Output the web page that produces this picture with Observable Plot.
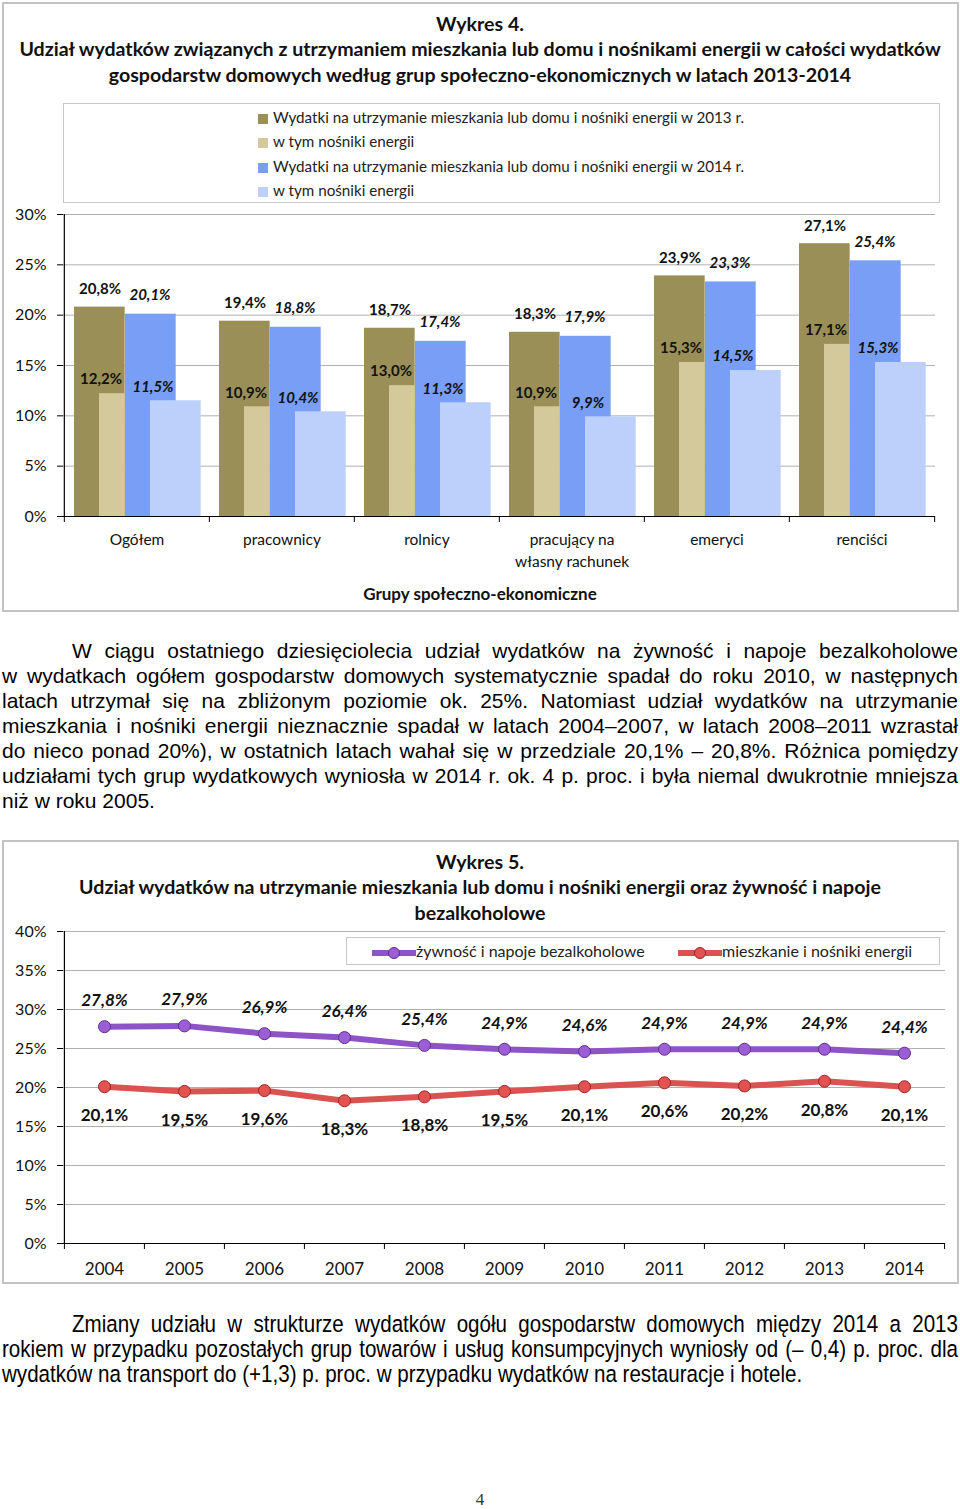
<!DOCTYPE html>
<html><head><meta charset="utf-8">
<script src="https://cdn.jsdelivr.net/npm/d3@7"></script>
<script src="https://cdn.jsdelivr.net/npm/@observablehq/plot@0.6"></script>
<style>
body{margin:0;background:#fff;}
#page{position:relative;width:960px;height:1509px;overflow:hidden;font-family:Lato,sans-serif;color:#111;}
.abs{position:absolute;}
.frame{position:absolute;border:2px solid #c3c3c3;box-sizing:border-box;}
.ttl{position:absolute;left:0;width:960px;text-align:center;font-weight:bold;font-size:19.6px;line-height:25px;white-space:nowrap;}
.leg1{position:absolute;left:63px;top:103px;width:877px;height:100px;border:1px solid #c8c8c8;box-sizing:border-box;background:#fff;}
.leg1 .it{position:absolute;left:194px;font-size:15.2px;line-height:20px;color:#222;white-space:nowrap;}
.leg1 .sw{display:inline-block;width:10px;height:10px;margin-right:5px;vertical-align:-1px;}
.para{position:absolute;left:2px;width:956px;font-family:"Liberation Sans",Arial,sans-serif;font-size:21px;word-spacing:-1px;line-height:25px;color:#000;text-align:justify;text-align-last:justify;}
.para2{position:absolute;left:2px;font-family:"Liberation Sans",Arial,sans-serif;font-size:24.5px;word-spacing:-1px;line-height:25px;color:#000;text-align:justify;text-align-last:justify;transform:scaleX(0.84);transform-origin:0 0;}
.left{text-align:left;text-align-last:left;word-spacing:0;}
.leg2{position:absolute;left:346px;top:937px;width:594px;height:28px;border:1px solid #c8c8c8;box-sizing:border-box;background:#fff;font-size:16px;color:#222;}
.leg2 .it{position:absolute;top:3px;white-space:nowrap;line-height:20px;}
.leg2 svg{vertical-align:-3px;}
</style></head><body>
<div id="page"></div>
<script>
// ---------- data: chart 1 ----------
const groups = ["Ogółem", "pracownicy", "rolnicy", "pracujący na\nwłasny rachunek", "emeryci", "renciści"];
const total2013 = [20.8, 19.4, 18.7, 18.3, 23.9, 27.1];
const energy2013 = [12.2, 10.9, 13.0, 10.9, 15.3, 17.1];
const total2014 = [20.1, 18.8, 17.4, 17.9, 23.3, 25.4];
const energy2014 = [11.5, 10.4, 11.3, 9.9, 14.5, 15.3];
const seriesNames1 = [
  "Wydatki na utrzymanie mieszkania lub domu i nośniki energii w 2013 r.",
  "w tym nośniki energii",
  "Wydatki na utrzymanie mieszkania lub domu i nośniki energii w 2014 r.",
  "w tym nośniki energii"
];
const yTicks1 = [0, 5, 10, 15, 20, 25, 30];
const title1 = ["Wykres 4.",
  "Udział  wydatków związanych z utrzymaniem mieszkania lub domu i nośnikami energii w całości wydatków",
  "gospodarstw domowych według grup społeczno-ekonomicznych w latach 2013-2014"];
const xTitle1 = "Grupy społeczno-ekonomiczne";

// ---------- data: chart 2 ----------
const years = [2004, 2005, 2006, 2007, 2008, 2009, 2010, 2011, 2012, 2013, 2014];
const food = [27.8, 27.9, 26.9, 26.4, 25.4, 24.9, 24.6, 24.9, 24.9, 24.9, 24.4];
const housing = [20.1, 19.5, 19.6, 18.3, 18.8, 19.5, 20.1, 20.6, 20.2, 20.8, 20.1];
const seriesNames2 = ["żywność i napoje bezalkoholowe", "mieszkanie i nośniki energii"];
const yTicks2 = [0, 5, 10, 15, 20, 25, 30, 35, 40];
const title2 = ["Wykres 5.",
  "Udział wydatków na utrzymanie mieszkania lub domu i nośniki energii oraz żywność i napoje",
  "bezalkoholowe"];

// ---------- text ----------
const para1 = [
  "W ciągu ostatniego dziesięciolecia udział wydatków na żywność i napoje bezalkoholowe",
  "w  wydatkach ogółem gospodarstw domowych systematycznie spadał do roku 2010, w następnych",
  "latach utrzymał się na zbliżonym poziomie ok. 25%. Natomiast udział wydatków na utrzymanie",
  "mieszkania i nośniki energii nieznacznie spadał w latach 2004–2007, w latach 2008–2011 wzrastał",
  "do nieco ponad 20%), w ostatnich latach wahał się w przedziale 20,1% – 20,8%. Różnica pomiędzy",
  "udziałami tych grup wydatkowych wyniosła w 2014 r. ok. 4 p. proc. i była niemal dwukrotnie mniejsza",
  "niż w roku 2005."
];
const para2 = [
  "Zmiany udziału w strukturze wydatków ogółu gospodarstw domowych między 2014 a 2013",
  "rokiem w przypadku pozostałych grup towarów i usług konsumpcyjnych wyniosły od (– 0,4) p. proc. dla",
  "wydatków na transport do (+1,3) p. proc. w przypadku wydatków na restauracje i hotele."
];
const pageNumber = "4";

// ---------- styles ----------
const olive = "#9B8F58", tan = "#D3C99A", blue = "#789EF5", lblue = "#BCD0FB";
const colors1 = [olive, tan, blue, lblue];
const purple = "#8D53C7", purpleDot = "#9C5ED6", purpleEdge = "#5C2E8A";
const red = "#DA5350", redDot = "#E25250", redEdge = "#9C2424";
const fmt = v => v.toFixed(1).replace(".", ",") + "%";

const page = document.getElementById("page");
function el(tag, cls, style, html) {
  const e = document.createElement(tag);
  if (cls) e.className = cls;
  if (style) e.setAttribute("style", style);
  if (html != null) e.innerHTML = html;
  page.appendChild(e);
  return e;
}

// frames
el("div", "frame", "left:2px;top:2px;width:957px;height:610px;");
el("div", "frame", "left:2px;top:840px;width:957px;height:444px;");

// title 1
[11, 36, 62].forEach((t, i) => el("div", "ttl", `top:${t}px;`, title1[i]));

// ---------- chart 1 ----------
const W = 960;
const mL1 = 63, mR1 = 25;
const bw1 = (W - mL1 - mR1) / groups.length;
const rows1 = groups.map((g, i) => ({g, t13: total2013[i], e13: energy2013[i], t14: total2014[i], e14: energy2014[i]}));
const chart1 = Plot.plot({
  width: W, height: 410, marginTop: 14, marginBottom: 94, marginLeft: mL1, marginRight: mR1,
  style: {fontFamily: "Lato, sans-serif", fontSize: "15px", color: "#111", background: "transparent", overflow: "visible"},
  x: {type: "band", domain: groups, padding: 0, label: null},
  y: {domain: [0, 30], label: null},
  marks: [
    Plot.ruleY(yTicks1.filter(d => d > 0), {stroke: "#b0b0b0", strokeWidth: 1}),
    Plot.barY(rows1, {x: "g", y: "t13", fill: olive, insetLeft: 10, insetRight: bw1 - 61}),
    Plot.barY(rows1, {x: "g", y: "e13", fill: tan, insetLeft: 35, insetRight: bw1 - 61}),
    Plot.barY(rows1, {x: "g", y: "t14", fill: blue, insetLeft: 61, insetRight: bw1 - 112}),
    Plot.barY(rows1, {x: "g", y: "e14", fill: lblue, insetLeft: 86, insetRight: bw1 - 137}),
    Plot.text(rows1, {x: "g", y: "t13", text: d => fmt(d.t13), dx: -37, dy: -18, fontWeight: "bold", fill: "#111"}),
    Plot.text(rows1, {x: "g", y: "e13", text: d => fmt(d.e13), dx: -36, dy: -14, fontWeight: "bold", fill: "#111"}),
    Plot.text(rows1, {x: "g", y: "t14", text: d => fmt(d.t14), dx: 13, dy: -19, fontWeight: "bold", fontStyle: "italic", fill: "#111"}),
    Plot.text(rows1, {x: "g", y: "e14", text: d => fmt(d.e14), dx: 16, dy: -14, fontWeight: "bold", fontStyle: "italic", fill: "#111"}),
    Plot.ruleY([0], {stroke: "#000", strokeWidth: 1.2}),
    Plot.ruleX([groups[0]], {dx: -bw1 / 2, y1: 0, y2: 30, stroke: "#000", strokeWidth: 1.2}),
    Plot.ruleX(groups, {x: d => d, dx: -bw1 / 2, y1: 0, y2: 0, insetBottom: -6, stroke: "#000"}),
    Plot.ruleX([groups[groups.length - 1]], {dx: bw1 / 2, y1: 0, y2: 0, insetBottom: -6, stroke: "#000"}),
    Plot.axisY(yTicks1, {tickFormat: d => d + "%", tickSize: 6, tickPadding: 11, fontSize: 16, stroke: "#000"}),
    Plot.axisX({tickSize: 0, tickPadding: 13, fontSize: 15.5, lineHeight: 1.42})
  ]
});
chart1.style.position = "absolute";
chart1.style.left = "0px";
chart1.style.top = "200px";
page.appendChild(chart1);

// legend 1
const leg1 = el("div", "leg1");
[3, 27, 52, 76].forEach((t, i) => {
  const it = document.createElement("div");
  it.className = "it";
  it.style.top = t + "px";
  it.innerHTML = `<span class="sw" style="background:${colors1[i]}"></span>${seriesNames1[i]}`;
  leg1.appendChild(it);
});

// x title 1
el("div", "abs", "left:0;width:960px;top:583px;text-align:center;font-weight:bold;font-size:17px;line-height:22px;color:#111;", xTitle1);

// paragraph 1
const p1Top = [638, 663, 688, 713, 738, 763, 788];
para1.forEach((t, i) => {
  const last = i === para1.length - 1;
  el("div", "para" + (last ? " left" : ""), `top:${p1Top[i]}px;` + (i === 0 ? "left:72px;width:886px;" : ""), t);
});

// title 2
[849, 874, 900].forEach((t, i) => el("div", "ttl", `top:${t}px;`, title2[i]));

// ---------- chart 2 ----------
const mL2 = 63, mR2 = 15;
const bw2 = (W - mL2 - mR2) / years.length;
const rows2 = years.map((y, i) => ({year: String(y), food: food[i], housing: housing[i]}));
const yearDom = years.map(String);
const chart2 = Plot.plot({
  width: W, height: 360, marginTop: 11, marginBottom: 37, marginLeft: mL2, marginRight: mR2,
  style: {fontFamily: "Lato, sans-serif", fontSize: "16px", color: "#111", background: "transparent", overflow: "visible"},
  x: {type: "band", domain: yearDom, padding: 0, label: null},
  y: {domain: [0, 40], label: null},
  marks: [
    Plot.ruleY(yTicks2.filter(d => d > 0), {stroke: "#b0b0b0", strokeWidth: 1}),
    Plot.line(rows2, {x: "year", y: "food", stroke: purple, strokeWidth: 6}),
    Plot.line(rows2, {x: "year", y: "housing", stroke: red, strokeWidth: 6}),
    Plot.dot(rows2, {x: "year", y: "food", r: 6, fill: purpleDot, stroke: purpleEdge, strokeWidth: 1}),
    Plot.dot(rows2, {x: "year", y: "housing", r: 6, fill: redDot, stroke: redEdge, strokeWidth: 1}),
    Plot.text(rows2, {x: "year", y: "food", text: d => fmt(d.food), dy: -26, fontSize: 17, fontWeight: "bold", fontStyle: "italic", fill: "#111"}),
    Plot.text(rows2, {x: "year", y: "housing", text: d => fmt(d.housing), dy: 29, fontSize: 17, fontWeight: "bold", fill: "#111"}),
    Plot.ruleY([0], {stroke: "#000", strokeWidth: 1.2}),
    Plot.ruleX([yearDom[0]], {dx: -bw2 / 2, y1: 0, y2: 40, stroke: "#000", strokeWidth: 1.2}),
    Plot.ruleX(yearDom, {x: d => d, dx: -bw2 / 2, y1: 0, y2: 0, insetBottom: -6, stroke: "#000"}),
    Plot.ruleX([yearDom[yearDom.length - 1]], {dx: bw2 / 2, y1: 0, y2: 0, insetBottom: -6, stroke: "#000"}),
    Plot.axisY(yTicks2, {tickFormat: d => d + "%", tickSize: 6, tickPadding: 11, fontSize: 16, stroke: "#000"}),
    Plot.axisX({tickSize: 0, tickPadding: 19, fontSize: 17})
  ]
});
chart2.style.position = "absolute";
chart2.style.left = "0px";
chart2.style.top = "920px";
page.appendChild(chart2);

// legend 2
const leg2 = el("div", "leg2");
const sym = (c, f, s) => `<svg width="44" height="14"><line x1="1" y1="7" x2="43" y2="7" stroke="${c}" stroke-width="6" stroke-linecap="round"/><circle cx="22" cy="7" r="5.5" fill="${f}" stroke="${s}" stroke-width="1"/></svg>`;
[[25, purple, purpleDot, purpleEdge], [331, red, redDot, redEdge]].forEach(([x, c, f, s], i) => {
  const it = document.createElement("div");
  it.className = "it";
  it.style.left = x + "px";
  it.innerHTML = sym(c, f, s) + seriesNames2[i];
  leg2.appendChild(it);
});

// paragraph 2 (narrow face: regular sans compressed horizontally)
const p2Top = [1311, 1336, 1361];
const sx = 0.84;
para2.forEach((t, i) => {
  const last = i === para2.length - 1;
  const left = i === 0 ? 72 : 2;
  const width = (958 - left) / sx;
  el("div", "para2" + (last ? " left" : ""), `top:${p2Top[i]}px;left:${left}px;width:${width}px;`, t);
});

// page number
el("div", "abs", "left:0;width:960px;top:1490px;text-align:center;font-family:'Liberation Serif',serif;font-size:17px;line-height:20px;color:#333;", pageNumber);
</script>
</body></html>
